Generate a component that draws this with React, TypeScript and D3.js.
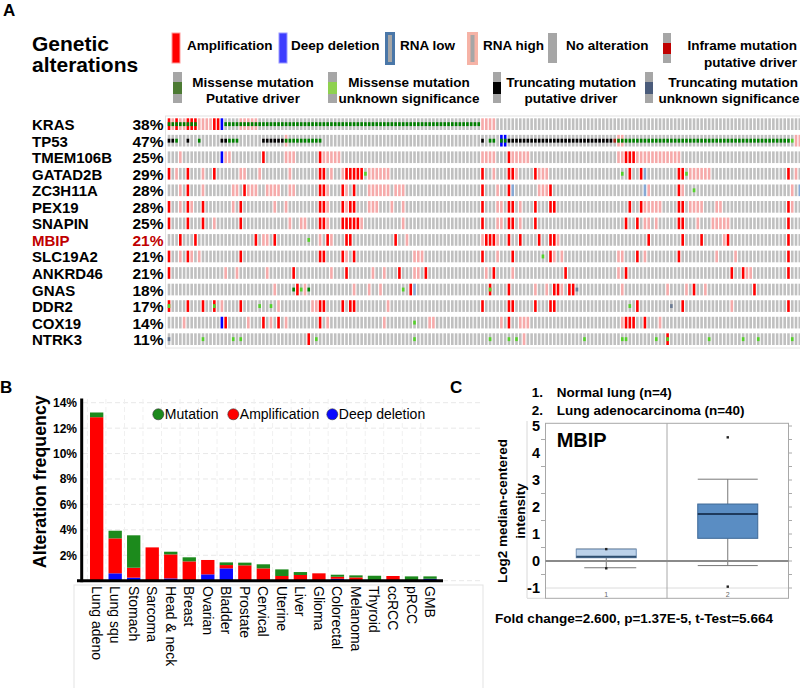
import React from "react";
import * as d3 from "d3";

const FONT = "'Liberation Sans', Arial, Helvetica, sans-serif";

// ---------------- Panel A data (oncoprint) ----------------
const genes = ["KRAS", "TP53", "TMEM106B", "GATAD2B", "ZC3H11A", "PEX19", "SNAPIN", "MBIP", "SLC19A2", "ANKRD46", "GNAS", "DDR2", "COX19", "NTRK3"];
const genePercents = ["38%", "47%", "25%", "29%", "28%", "28%", "25%", "21%", "21%", "21%", "18%", "17%", "14%", "11%"];
const highlightGene = "MBIP";
const sampleCount = 168;

// sample columns (index lists / ranges) per gene, in gene order
const amplificationCols = [
  "0,2,5-7,12,13",
  "",
  "25,40,90,121-123",
  "0,5,12,40,41,47-51,83,90,91,97,122,125,135,136,164",
  "5,20,40,41,46,49,83,90,101,135",
  "0,5,9,19,40,41,46,48,49,83,90,91,97,101,102,122,125,135,136,164",
  "0,5,9,19,40,41,46-50,83,90,91,97,121,124,135,136,164",
  "3,7,23,28,42,47,48,60,84-86,90,93,98,101,102,127,136,141,148,164",
  "0,5,19,40,41,46,49,83,91,101,124,135,164",
  "0,33,47,61,68,86,105,121,149,152,164",
  "34,64,85,90,102,103,106,107,139,155",
  "0,5,9,12,19,40,41,46,48,49,83,90,91,97,101,102,124,136,164",
  "15,25,29,40,90,121-123,126",
  "37,132",
];
const rnaHighCols = [
  "1,3,4,8-11,19-23,83-86",
  "31,119,120,166,167",
  "3,15,16,31-33,41-45,83-86,91-95,119,120,124-135",
  "2,9,19,20,24,32,43,46,53-58,86,92,98-100,138-143,166",
  "3,9,17,18,21-23,26-29,32,33,42,47,53-58,60-62,87,98-100,127,136,165",
  "3,6,17,28,31,42,47,53-55,59,62,87,88,93,126-130,138-141,145,146,165",
  "12,32,35,36,42,51,62,87,88,93,126,127,129,140,144-148",
  "25,26,40,43,63,83,87,103,147",
  "3,6,8,47,65-67,87,102,104,119,120,126,145,150",
  "15,18,26,43,54,57,65,66,84,91,119,153,154",
  "28,36,49,53,56,97,100,104,120,132,137,142",
  "14,29,38,39,58,149",
  "4,21,27,31,42,57,69,70,88,93-95,120,130",
  "94",
];
const deepDeletionCols = ["14", "88,89", "14", "", "", "", "", "", "", "", "", "", "14", ""];
const rnaLowCols = ["", "", "", "126", "91,126,167", "", "", "", "", "", "65", "", "", ""];
const missenseDriverCols = ["0-7,15-82", "2,8,16-18,31-40,85,86,88,89,119-164", "", "", "", "", "", "", "", "", "33,37", "", "", ""];
const missenseUnknownCols = [
  "", "165", "", "52,120,137", "139", "", "", "37", "99", "", "35,62,85", "0,12,24,27,122", "65",
  "9,17,19,39,65,85,90,92,110,120,121,129,132,143,152,156,165",
];
const truncatingDriverCols = ["", "0,1,5,14,15,25-30,83,90-117", "", "", "", "", "", "", "", "", "", "", "", ""];
const truncatingUnknownCols = ["", "", "", "", "", "", "", "", "", "", "108", "133", "", "0"];
const inframeDriverCols = ["", "118", "", "", "", "", "", "", "", "", "", "", "", ""];

// ---------------- Panel B data ----------------
const cancerTypes = ["Lung adeno", "Lung squ", "Stomach", "Sarcoma", "Head & neck", "Breast", "Ovarian", "Bladder", "Prostate", "Cervical", "Uterine", "Liver", "Glioma", "Colorectal", "Melanoma", "Thyroid", "ccRCC", "pRCC", "GMB"];
const deepDeletionFreq = [0, 0.58, 0.24, 0, 0.18, 0, 0.5, 0.97, 0, 0, 0, 0, 0, 0.15, 0, 0, 0, 0, 0.15];
const amplificationFreq = [12.86, 2.75, 0.78, 2.62, 1.89, 1.52, 1.13, 0.26, 1.21, 0.97, 0.37, 0.45, 0.58, 0.16, 0.26, 0, 0.37, 0, 0];
const mutationFreq = [0.37, 0.6, 2.55, 0, 0.21, 0.32, 0, 0.21, 0.21, 0.32, 0.52, 0.23, 0, 0.16, 0.16, 0.39, 0, 0.34, 0.19];
const freqTicks = [2, 4, 6, 8, 10, 12, 14];
const legendB = ["Mutation", "Amplification", "Deep deletion"];

// ---------------- Panel C data ----------------
const boxGroups = ["1", "2"];
const boxLabels = ["Normal lung (n=4)", "Lung adenocarcinoma (n=40)"];
const boxQ1 = [0.12, 0.84];
const boxMedian = [0.16, 1.74];
const boxQ3 = [0.44, 2.11];
const boxLowWhisker = [-0.25, -0.17];
const boxHighWhisker = [0.44, 3.03];
const boxOutliers = [[0.44, -0.27], [4.58, -0.95]];
const intensityTicks = [-1, 0, 1, 2, 3, 4, 5];
const statsText = "Fold change=2.600, p=1.37E-5, t-Test=5.664";

const parseCols = (s: string): number[] =>
  s
    ? s.split(",").flatMap((p) => {
        const [a, b] = p.split("-").map(Number);
        if (b === undefined) return [a];
        const out: number[] = [];
        for (let i = a; i <= b; i++) out.push(i);
        return out;
      })
    : [];

export default function App() {
  // ---------- Panel A ----------
  const colX = d3.scaleBand<number>().domain(d3.range(sampleCount)).range([167.7, 801.1]).paddingInner(0.31);
  const rowY = d3.scaleBand<string>().domain(genes).range([118.3, 345]).paddingInner(0.293);
  const cw = colX.bandwidth();
  const rh = rowY.bandwidth();

  const cells: React.ReactNode[] = [];
  const muts: React.ReactNode[] = [];
  genes.forEach((g, r) => {
    const amp = new Set(parseCols(amplificationCols[r]));
    const hi = new Set(parseCols(rnaHighCols[r]));
    const del = new Set(parseCols(deepDeletionCols[r]));
    const lo = new Set(parseCols(rnaLowCols[r]));
    const y = rowY(g)!;
    for (let c = 0; c < sampleCount; c++) {
      let fill = "#c0c0c0";
      if (amp.has(c)) fill = "#ff0000";
      else if (del.has(c)) fill = "#0000ff";
      else if (hi.has(c)) fill = "#f6aaaa";
      else if (lo.has(c)) fill = "#86a8d4";
      cells.push(<rect key={`c${r}-${c}`} x={colX(c)} y={y} width={cw} height={rh} fill={fill} />);
    }
    const mutLayers: [string, string][] = [
      [missenseDriverCols[r], "#008000"],
      [missenseUnknownCols[r], "#55d12a"],
      [truncatingDriverCols[r], "#000000"],
      [truncatingUnknownCols[r], "#6a7a92"],
      [inframeDriverCols[r], "#a3281a"],
    ];
    mutLayers.forEach(([s, col], li) => {
      parseCols(s).forEach((c) => {
        muts.push(<rect key={`m${r}-${li}-${c}`} x={colX(c)} y={y + rh / 3} width={cw} height={rh / 3} fill={col} />);
      });
    });
  });

  // ---------- Panel B ----------
  const xB = d3.scaleBand<string>().domain(cancerTypes).range([87.4, 439.3]).paddingInner(0.28).paddingOuter(0.14);
  const yB = d3.scaleLinear().domain([0, 14]).range([580.7, 402.7]);
  const stackRows = cancerTypes.map((t, i) => ({ type: t, del: deepDeletionFreq[i], amp: amplificationFreq[i], mut: mutationFreq[i] }));
  const series = d3.stack<any>().keys(["del", "amp", "mut"])(stackRows);
  const seriesColor: Record<string, string> = { del: "#0a0aff", amp: "#ff0000", mut: "#1c8a1c" };
  const legendColors = ["#1c8a1c", "#ff0000", "#0a0aff"];
  const legendCx = [158.3, 233.3, 332.3];

  // ---------- Panel C ----------
  const yC = d3.scaleLinear().domain([-1, 5]).range([588, 426]);
  const xC = d3.scaleBand<string>().domain(boxGroups).range([545.5, 788.5]);
  const boxW = 60;
  const halfTicks = d3.range(-2, 11).map((k) => k / 2);

  const labelStyle = { fontFamily: FONT, fontWeight: 700, fontSize: 13.5 } as const;

  return (
    <svg width={800} height={688} style={{ position: "absolute", left: 0, top: 0, background: "#fff" }} fontFamily={FONT}>
      <rect x={0} y={0} width={800} height={688} fill="#fff" />
      {/* ===== Panel A ===== */}
      <text x={3} y={16} fontSize={17} fontWeight={700}>A</text>
      <text x={32} y={51} fontSize={21} fontWeight={700}>Genetic</text>
      <text x={32} y={72} fontSize={21} fontWeight={700}>alterations</text>

      {/* legend row 1 */}
      <rect x={172} y={33} width={8} height={30} fill="#ff0000" stroke="#ff9a9a" strokeWidth={1} />
      <text x={187} y={50} {...labelStyle}>Amplification</text>
      <rect x={279} y={33} width={8} height={30} fill="#3d3dff" stroke="#9a9aff" strokeWidth={1} />
      <text x={291} y={50} {...labelStyle}>Deep deletion</text>
      <rect x={385} y={32} width={10} height={33} fill="#4a77a8" />
      <rect x={388} y={35} width={4} height={27} fill="#a6a6a6" />
      <text x={400} y={50} {...labelStyle}>RNA low</text>
      <rect x={467} y={32} width={11} height={33} fill="#f6b3a6" />
      <rect x={470.5} y={35} width={4} height={27} fill="#a6a6a6" />
      <text x={483} y={50} {...labelStyle}>RNA high</text>
      <rect x={548} y={33} width={9} height={30} fill="#a6a6a6" />
      <text x={566} y={50} {...labelStyle}>No alteration</text>
      <rect x={663} y={33} width={8} height={30} fill="#a6a6a6" />
      <rect x={663} y={43} width={8} height={11} fill="#c00000" />
      <text x={797} y={50} textAnchor="end" {...labelStyle}>Inframe mutation</text>
      <text x={797} y={66.5} textAnchor="end" {...labelStyle}>putative driver</text>

      {/* legend row 2 */}
      <rect x={173} y={72} width={9} height={31} fill="#a6a6a6" />
      <rect x={173} y={82} width={9} height={12} fill="#4c7a33" />
      <text x={253} y={86.5} textAnchor="middle" {...labelStyle}>Missense mutation</text>
      <text x={253} y={103} textAnchor="middle" {...labelStyle}>Putative driver</text>
      <rect x={328} y={72} width={9} height={31} fill="#a6a6a6" />
      <rect x={328} y={82} width={9} height={12} fill="#8fd14f" />
      <text x={409} y={86.5} textAnchor="middle" {...labelStyle}>Missense mutation</text>
      <text x={409} y={103} textAnchor="middle" {...labelStyle}>unknown significance</text>
      <rect x={493} y={72} width={8} height={31} fill="#a6a6a6" />
      <rect x={493} y={82} width={8} height={12} fill="#000000" />
      <text x={571} y={86.5} textAnchor="middle" {...labelStyle}>Truncating mutation</text>
      <text x={571} y={103} textAnchor="middle" {...labelStyle}>putative driver</text>
      <rect x={645} y={72} width={8} height={31} fill="#a6a6a6" />
      <rect x={645} y={82} width={8} height={12} fill="#4a5b7a" />
      <text x={733} y={86.5} textAnchor="middle" {...labelStyle}>Truncating mutation</text>
      <text x={729} y={103} textAnchor="middle" {...labelStyle}>unknown significance</text>

      {/* oncoprint */}
      <rect x={165.5} y={116} width={640} height={232} fill="none" stroke="#e2e2e2" strokeWidth={1} />
      {cells}
      {muts}
      {genes.map((g, r) => {
        const cy = rowY(g)! + rh / 2 + 6;
        const col = g === highlightGene ? "#c00000" : "#000";
        return (
          <g key={`lab${g}`}>
            <text x={32} y={cy} fontSize={15} fontWeight={700} fill={col}>{g}</text>
            <text x={163.5} y={cy} fontSize={15.5} fontWeight={700} textAnchor="end" fill={col}>{genePercents[r]}</text>
          </g>
        );
      })}

      {/* ===== Panel B ===== */}
      <text x={0} y={393} fontSize={17} fontWeight={700}>B</text>
      <rect x={74} y={585} width={409} height={120} fill="none" stroke="#e3e3e3" strokeWidth={1} />
      {d3.range(0, 15, 2).map((t) => (
        <line key={`hg${t}`} x1={83} x2={483} y1={yB(t)} y2={yB(t)} stroke="#e8e8e8" strokeDasharray="5,3" />
      ))}
      {cancerTypes.map((c) => (
        <line key={`vg${c}`} x1={xB(c)! - xB.step() * 0.14} x2={xB(c)! - xB.step() * 0.14} y1={399} y2={580} stroke="#f0f0f0" strokeDasharray="5,3" />
      ))}
      {series.map((s) =>
        s.map((d: any) =>
          d[1] - d[0] > 0 ? (
            <rect key={`${s.key}-${d.data.type}`} x={xB(d.data.type)} y={yB(d[1])} width={xB.bandwidth()} height={yB(d[0]) - yB(d[1])} fill={seriesColor[s.key as string]} />
          ) : null
        )
      )}
      <line x1={81.7} x2={81.7} y1={398.5} y2={582.2} stroke="#000" strokeWidth={3} />
      <line x1={77} x2={443} y1={580.7} y2={580.7} stroke="#000" strokeWidth={3} />
      {freqTicks.map((t) => (
        <text key={`yt${t}`} x={77} y={yB(t) + 4.5} fontSize={12} fontWeight={700} textAnchor="end">{`${t}%`}</text>
      ))}
      <text transform="translate(45.5,481.7) rotate(-90)" fontSize={17.8} fontWeight={700} textAnchor="middle">Alteration frequency</text>
      {legendB.map((l, i) => (
        <g key={`lg${l}`}>
          <circle cx={legendCx[i]} cy={414.3} r={5.5} fill={legendColors[i]} stroke="#333" strokeWidth={0.6} />
          <text x={legendCx[i] + 6.5} y={419.3} fontSize={14}>{l}</text>
        </g>
      ))}
      {cancerTypes.map((c) => {
        const cx = xB(c)! + xB.bandwidth() / 2;
        return (
          <text key={`xl${c}`} transform={`translate(${cx - 5},586) rotate(90)`} fontSize={14}>{c}</text>
        );
      })}

      {/* ===== Panel C ===== */}
      <text x={450} y={393} fontSize={17} fontWeight={700}>C</text>
      {boxLabels.map((l, i) => (
        <g key={`bl${i}`}>
          <text x={531.7} y={396.5 + i * 18.5} fontSize={13.5} fontWeight={700}>{`${i + 1}.`}</text>
          <text x={556.7} y={396.5 + i * 18.5} fontSize={13.5} fontWeight={700}>{l}</text>
        </g>
      ))}
      <line x1={527} x2={527} y1={421} y2={598} stroke="#d8d8d8" />
      <line x1={527} x2={545.5} y1={598.3} y2={598.3} stroke="#d8d8d8" />
      <line x1={545.5} x2={788.5} y1={yC(-1)} y2={yC(-1)} stroke="#dcdcdc" />
      <rect x={545.5} y={423.3} width={243} height={175} fill="none" stroke="#a8a8a8" />
      <line x1={xC("2")!} x2={xC("2")!} y1={423.3} y2={598.3} stroke="#a8a8a8" />
      {halfTicks.map((t) => (
        <g key={`ht${t}`}>
          <line x1={788.5} x2={792} y1={yC(t)} y2={yC(t)} stroke="#aaa" />
          {Number.isInteger(t) ? null : <line x1={541} x2={545.5} y1={yC(t)} y2={yC(t)} stroke="#aaa" />}
        </g>
      ))}
      {intensityTicks.map((t) => (
        <text key={`it${t}`} x={540} y={yC(t) + 5.2} fontSize={14.5} fontWeight={700} textAnchor="end">{t}</text>
      ))}
      <text transform="translate(506.5,511) rotate(-90)" fontSize={13.5} fontWeight={700} textAnchor="middle">Log2 median-centered</text>
      <text transform="translate(524.5,511) rotate(-90)" fontSize={13.5} fontWeight={700} textAnchor="middle">intensity</text>
      <text x={556.7} y={447} fontSize={20} fontWeight={700}>MBIP</text>
      {boxGroups.map((g, i) => {
        const cx = xC(g)! + xC.bandwidth() / 2;
        const fill = i === 0 ? "#bcd2ea" : "#5a8dc3";
        const stroke = i === 0 ? "#6f8fb5" : "#3d6896";
        const med = i === 0 ? "#2f4f70" : "#1e3a5c";
        return (
          <g key={`box${g}`}>
            <line x1={cx} x2={cx} y1={yC(boxQ1[i])} y2={yC(boxLowWhisker[i])} stroke="#777" />
            <line x1={cx} x2={cx} y1={yC(boxQ3[i])} y2={yC(boxHighWhisker[i])} stroke="#777" />
            <line x1={cx - boxW / 2 + (i === 0 ? 8 : 0)} x2={cx + boxW / 2} y1={yC(boxLowWhisker[i])} y2={yC(boxLowWhisker[i])} stroke="#777" />
            <line x1={cx - boxW / 2} x2={cx + boxW / 2} y1={yC(boxHighWhisker[i])} y2={yC(boxHighWhisker[i])} stroke="#777" />
            <rect x={cx - boxW / 2} y={yC(boxQ3[i])} width={boxW} height={yC(boxQ1[i]) - yC(boxQ3[i])} fill={fill} stroke={stroke} />
            <line x1={cx - boxW / 2} x2={cx + boxW / 2} y1={yC(boxMedian[i])} y2={yC(boxMedian[i])} stroke={med} strokeWidth={2} />
            {boxOutliers[i].map((v, k) => (
              <rect key={`o${k}`} x={cx - 1.2} y={yC(v) - 1.2} width={2.4} height={2.4} fill="#222" />
            ))}
            <text x={cx} y={597} fontSize={7} fill="#666" textAnchor="middle">{g}</text>
          </g>
        );
      })}
      <line x1={545.5} x2={788.5} y1={yC(0)} y2={yC(0)} stroke="#8a8a8a" strokeWidth={2} />
      <text x={495} y={623} fontSize={13.5} fontWeight={700} textLength={278} lengthAdjust="spacingAndGlyphs">{statsText}</text>
    </svg>
  );
}
